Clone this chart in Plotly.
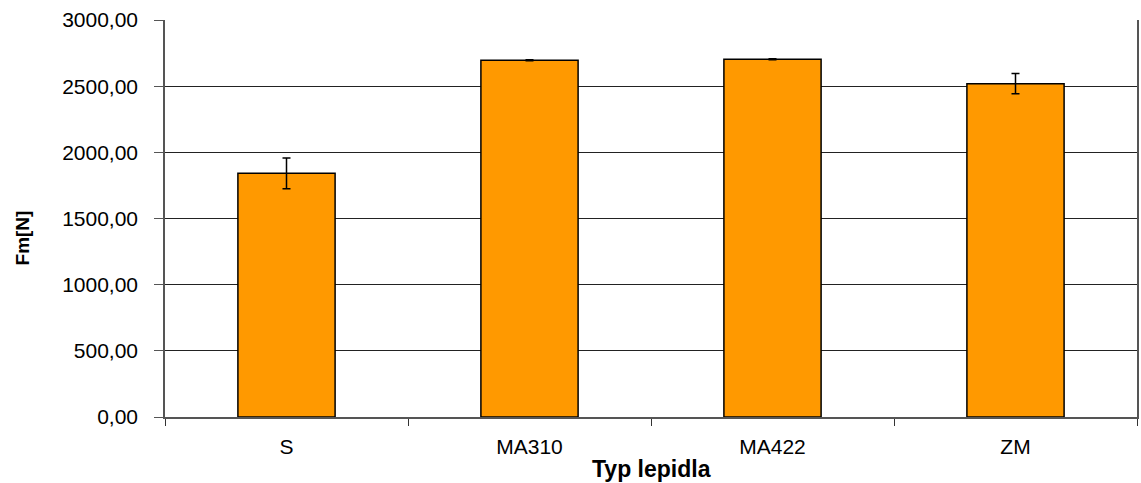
import plotly.graph_objects as go

categories = ["S", "MA310", "MA422", "ZM"]
fm_values = [1841, 2696, 2703, 2519]
fm_errors = [117, 4, 4, 76]
y_tick_values = [0, 500, 1000, 1500, 2000, 2500, 3000]
y_tick_labels = ["0,00", "500,00", "1000,00", "1500,00", "2000,00", "2500,00", "3000,00"]

FONT = "Liberation Sans, Arial, sans-serif"

fig = go.Figure()
fig.add_trace(go.Bar(
    x=categories,
    y=fm_values,
    width=0.4,
    marker=dict(color="#FF9900", line=dict(color="#000000", width=1.5)),
    error_y=dict(type="data", array=fm_errors, visible=True,
                 color="#000000", thickness=1.5, width=4),
))

fig.update_layout(
    width=1141, height=483,
    margin=dict(l=165, r=2, t=20, b=66),
    paper_bgcolor="white", plot_bgcolor="white",
    showlegend=False,
    font=dict(family=FONT, size=21, color="#000000"),
    xaxis=dict(
        type="category",
        tickson="boundaries",
        ticks="outside", ticklen=7, tickcolor="#333333", tickwidth=1,
        showline=True, linecolor="#555555", linewidth=1.5,
        showgrid=False,
        ticklabelstandoff=10,
        tickfont=dict(family=FONT, size=21),
    ),
    yaxis=dict(
        range=[0, 3000],
        tickvals=y_tick_values, ticktext=y_tick_labels,
        ticks="outside", ticklen=9, tickcolor="#555555", tickwidth=1,
        showline=True, linecolor="#555555", linewidth=1.5, mirror=True,
        showgrid=True, gridcolor="#222222", gridwidth=1,
        zeroline=False,
        ticklabelstandoff=12,
        tickfont=dict(family=FONT, size=21),
    ),
    annotations=[
        dict(text="<b>Typ lepidla</b>", xref="paper", yref="paper",
             x=0.5, y=-0.132, xanchor="center", yanchor="middle",
             showarrow=False, font=dict(family=FONT, size=23)),
        dict(text="<b>Fm[N]</b>", xref="paper", yref="paper",
             x=-0.147, y=0.45, xanchor="center", yanchor="middle",
             textangle=-90, showarrow=False, font=dict(family=FONT, size=19)),
    ],
)

fig.write_html("out.html", config={"displayModeBar": False},
               post_script="document.body.style.margin='0';")
